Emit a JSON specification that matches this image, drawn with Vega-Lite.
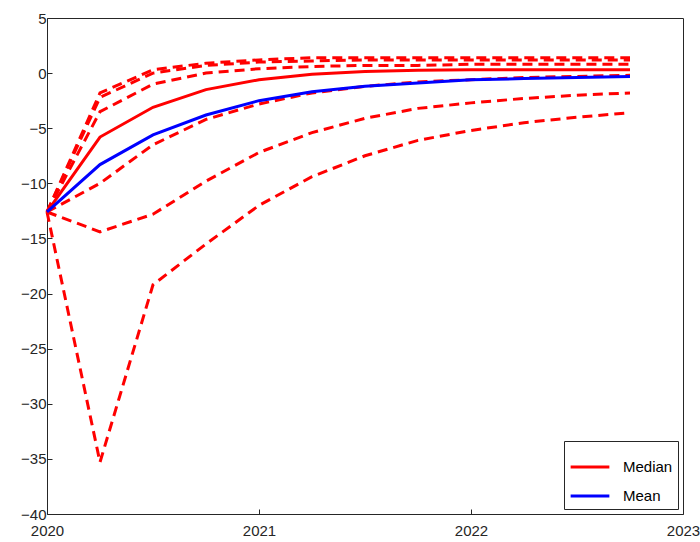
{
"$schema":"https://vega.github.io/schema/vega-lite/6.json",
"width":636,"height":496,"autosize":"none",
"padding":{"left":47,"top":18,"right":17,"bottom":28},
"config":{"view":{"stroke":"#262626","strokeWidth":1},"font":"Liberation Sans",
"axis":{"grid":false,"domain":false,"tickColor":"#262626","labelColor":"#262626","labelFontSize":15,"tickSize":-5,"labelPadding":6,"labelFlush":false,"title":null}},
"datasets":{
"dash":[
{"s":"p1","x":2020,"y":-12.6},{"s":"p1","x":2020.25,"y":-35.3},{"s":"p1","x":2020.5,"y":-19.2},{"s":"p1","x":2020.75,"y":-15.5},{"s":"p1","x":2021,"y":-12.0},{"s":"p1","x":2021.25,"y":-9.4},{"s":"p1","x":2021.5,"y":-7.5},{"s":"p1","x":2021.75,"y":-6.1},{"s":"p1","x":2022,"y":-5.2},{"s":"p1","x":2022.25,"y":-4.5},{"s":"p1","x":2022.5,"y":-4.0},{"s":"p1","x":2022.75,"y":-3.6},
{"s":"p2","x":2020,"y":-12.6},{"s":"p2","x":2020.25,"y":-14.4},{"s":"p2","x":2020.5,"y":-12.8},{"s":"p2","x":2020.75,"y":-9.8},{"s":"p2","x":2021,"y":-7.2},{"s":"p2","x":2021.25,"y":-5.4},{"s":"p2","x":2021.5,"y":-4.1},{"s":"p2","x":2021.75,"y":-3.2},{"s":"p2","x":2022,"y":-2.7},{"s":"p2","x":2022.25,"y":-2.3},{"s":"p2","x":2022.5,"y":-2.0},{"s":"p2","x":2022.75,"y":-1.8},
{"s":"p3","x":2020,"y":-12.6},{"s":"p3","x":2020.25,"y":-10.0},{"s":"p3","x":2020.5,"y":-6.5},{"s":"p3","x":2020.75,"y":-4.2},{"s":"p3","x":2021,"y":-2.8},{"s":"p3","x":2021.25,"y":-1.8},{"s":"p3","x":2021.5,"y":-1.2},{"s":"p3","x":2021.75,"y":-0.8},{"s":"p3","x":2022,"y":-0.6},{"s":"p3","x":2022.25,"y":-0.4},{"s":"p3","x":2022.5,"y":-0.3},{"s":"p3","x":2022.75,"y":-0.2},
{"s":"p4","x":2020,"y":-12.6},{"s":"p4","x":2020.25,"y":-3.5},{"s":"p4","x":2020.5,"y":-1.0},{"s":"p4","x":2020.75,"y":0.0},{"s":"p4","x":2021,"y":0.4},{"s":"p4","x":2021.25,"y":0.6},{"s":"p4","x":2021.5,"y":0.7},{"s":"p4","x":2021.75,"y":0.7},{"s":"p4","x":2022,"y":0.8},{"s":"p4","x":2022.25,"y":0.8},{"s":"p4","x":2022.5,"y":0.8},{"s":"p4","x":2022.75,"y":0.8},
{"s":"p5","x":2020,"y":-12.6},{"s":"p5","x":2020.25,"y":-2.2},{"s":"p5","x":2020.5,"y":0.0},{"s":"p5","x":2020.75,"y":0.7},{"s":"p5","x":2021,"y":1.0},{"s":"p5","x":2021.25,"y":1.1},{"s":"p5","x":2021.5,"y":1.2},{"s":"p5","x":2021.75,"y":1.2},{"s":"p5","x":2022,"y":1.2},{"s":"p5","x":2022.25,"y":1.2},{"s":"p5","x":2022.5,"y":1.2},{"s":"p5","x":2022.75,"y":1.2},
{"s":"p6","x":2020,"y":-12.6},{"s":"p6","x":2020.25,"y":-1.8},{"s":"p6","x":2020.5,"y":0.3},{"s":"p6","x":2020.75,"y":0.9},{"s":"p6","x":2021,"y":1.2},{"s":"p6","x":2021.25,"y":1.4},{"s":"p6","x":2021.5,"y":1.4},{"s":"p6","x":2021.75,"y":1.4},{"s":"p6","x":2022,"y":1.4},{"s":"p6","x":2022.25,"y":1.4},{"s":"p6","x":2022.5,"y":1.4},{"s":"p6","x":2022.75,"y":1.4}
],
"solid":[
{"s":"Median","x":2020,"y":-12.6},{"s":"Median","x":2020.25,"y":-5.8},{"s":"Median","x":2020.5,"y":-3.1},{"s":"Median","x":2020.75,"y":-1.5},{"s":"Median","x":2021,"y":-0.6},{"s":"Median","x":2021.25,"y":-0.1},{"s":"Median","x":2021.5,"y":0.15},{"s":"Median","x":2021.75,"y":0.25},{"s":"Median","x":2022,"y":0.3},{"s":"Median","x":2022.25,"y":0.3},{"s":"Median","x":2022.5,"y":0.3},{"s":"Median","x":2022.75,"y":0.3},
{"s":"Mean","x":2020,"y":-12.6},{"s":"Mean","x":2020.25,"y":-8.3},{"s":"Mean","x":2020.5,"y":-5.6},{"s":"Mean","x":2020.75,"y":-3.8},{"s":"Mean","x":2021,"y":-2.5},{"s":"Mean","x":2021.25,"y":-1.7},{"s":"Mean","x":2021.5,"y":-1.2},{"s":"Mean","x":2021.75,"y":-0.9},{"s":"Mean","x":2022,"y":-0.6},{"s":"Mean","x":2022.25,"y":-0.5},{"s":"Mean","x":2022.5,"y":-0.4},{"s":"Mean","x":2022.75,"y":-0.3}
]},
"layer":[
{"data":{"name":"dash"},"mark":{"type":"line","color":"#ff0000","strokeWidth":3,"strokeDash":[10,6]},
"encoding":{"x":{"field":"x","type":"quantitative","scale":{"domain":[2020,2023],"nice":false},"axis":{"values":[2020,2021,2022,2023],"format":"d","labelPadding":14}},
"y":{"field":"y","type":"quantitative","scale":{"domain":[-40,5],"nice":false},"axis":{"values":[-40,-35,-30,-25,-20,-15,-10,-5,0,5]}},
"detail":{"field":"s"}}},
{"data":{"name":"solid"},"mark":{"type":"line","strokeWidth":3},
"encoding":{"x":{"field":"x","type":"quantitative"},"y":{"field":"y","type":"quantitative"},
"color":{"field":"s","type":"nominal","scale":{"domain":["Median","Mean"],"range":["#ff0000","#0000ff"]},
"legend":{"title":null,"orient":"bottom-right","offset":5,"strokeColor":"#262626","fillColor":"white","padding":5,"labelFontSize":15,"labelColor":"#000","labelLimit":200,"symbolType":"stroke","symbolSize":1500,"symbolStrokeWidth":3,"rowPadding":-14,"labelOffset":12}}}}
]
}
